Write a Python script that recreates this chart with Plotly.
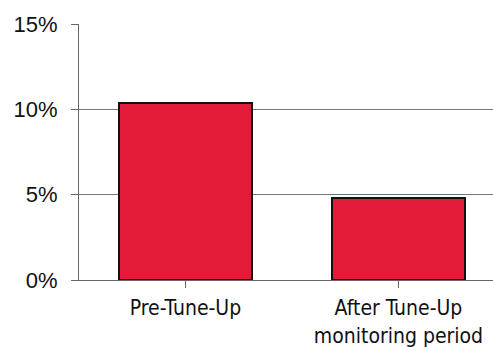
import plotly.graph_objects as go

categories = ["Pre-Tune-Up", "After Tune-Up<br>monitoring period"]
values = [10.4, 4.8]
tick_vals = [0, 5, 10, 15]
tick_text = ["0%", "5%", "10%", "15%"]

fig = go.Figure(go.Bar(
    x=[0, 1], y=values, width=0.625,
    marker=dict(color="#E31A38", line=dict(color="#111111", width=2)),
))

fig.update_layout(
    width=493, height=347,
    margin=dict(l=79, r=0, t=24, b=67),
    paper_bgcolor="white", plot_bgcolor="white",
    showlegend=False,
    bargap=0,
)
fig.update_xaxes(
    range=[-0.5, 1.444],
    tickmode="array", tickvals=[0, 1], ticktext=categories,
    tickson="boundaries", ticks="outside", ticklen=7, tickcolor="#666666", tickwidth=1,
    showline=True, linecolor="#666666", linewidth=1,
    showgrid=False, zeroline=False, automargin=False,
    tickfont=dict(family="DejaVu Sans Condensed, Roboto", size=21, color="#111111"),
    ticklabelstandoff=2,
)
fig.update_yaxes(
    range=[0, 15],
    tickmode="array", tickvals=tick_vals, ticktext=tick_text,
    ticks="outside", ticklen=7, tickcolor="#666666", tickwidth=1,
    showline=True, linecolor="#666666", linewidth=1,
    showgrid=True, gridcolor="#777777", gridwidth=1,
    zeroline=False, automargin=False,
    tickfont=dict(family="Liberation Sans", size=22, color="#111111"),
    ticklabelstandoff=9,
)

fig.write_html("out.html", config={"displayModeBar": False},
               post_script="document.body.style.margin='0';")
